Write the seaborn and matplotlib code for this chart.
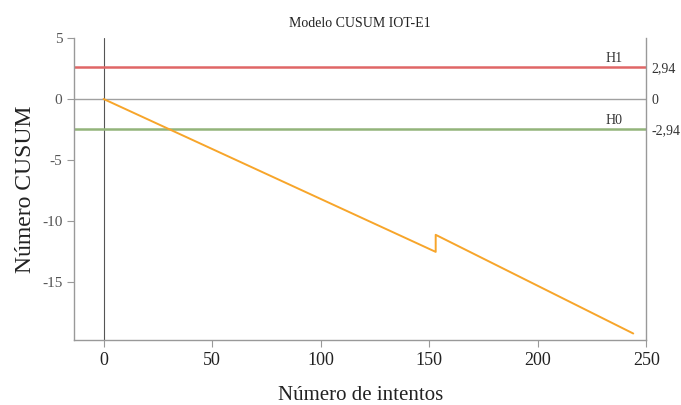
import numpy as np
import pandas as pd
import matplotlib
matplotlib.use("Agg")
import matplotlib.pyplot as plt
import seaborn as sns

# CUSUM path vertices
intentos = [0, 153, 153, 244]
cusum = [0.0, -12.55, -11.15, -19.25]

# limit lines (as drawn) and their right-side labels
h1 = 2.6
h0 = -2.46
right_ticks = [h1, 0, h0]
right_labels = ["2,94", "0", "-2,94"]

sns.set_style("white")
plt.rcParams['font.family'] = ['Liberation Serif', 'DejaVu Serif']
plt.rcParams['axes.unicode_minus'] = False

fig = plt.figure(figsize=(6.81, 4.05), dpi=100)
ax = fig.add_axes([0.109, 0.160, 0.840, 0.746])

df = pd.DataFrame({"intentos": intentos, "cusum": cusum})
ax.axhline(0, color="#a0a0a0", lw=1, zorder=1)
ax.axvline(0, color="#555555", lw=0.8, zorder=1)
ax.axhline(h1, color="#e06666", lw=1.8, zorder=2)
ax.axhline(h0, color="#93b47a", lw=1.8, zorder=2)
sns.lineplot(data=df, x="intentos", y="cusum", sort=False, estimator=None,
             color="#f7a52a", lw=1.4, ax=ax, zorder=3)

ax.text(235, h1 + 0.15, "H1", ha="center", va="bottom", fontsize=10, color="#333333")
ax.text(235, h0 + 0.15, "H0", ha="center", va="bottom", fontsize=10, color="#333333")

ax.set_xlim(-13.5, 250)
ax.set_ylim(-19.8, 5)
ax.set_xticks([0, 50, 100, 150, 200, 250])
ax.set_yticks([5, 0, -5, -10, -15])
ax.tick_params(axis="both", direction="out", length=5, color="#999999",
               labelsize=11, labelcolor="#555555")
ax.tick_params(axis="x", labelsize=13, labelcolor="#222222")
ax.tick_params(left=True, bottom=True)

for side in ["left", "bottom", "right"]:
    ax.spines[side].set_color("#999999")
    ax.spines[side].set_linewidth(1)
ax.spines["top"].set_visible(False)

ax2 = ax.twinx()
ax2.set_ylim(ax.get_ylim())
ax2.set_yticks(right_ticks)
ax2.set_yticklabels(right_labels)
ax2.tick_params(axis="y", length=0, labelsize=10, labelcolor="#333333", pad=4)
for s in ax2.spines.values():
    s.set_visible(False)

ax.set_title("Modelo CUSUM IOT-E1", fontsize=10, color="#222222", pad=8)
ax.set_xlabel("Número de intentos", fontsize=15, color="#222222", labelpad=12)
ax.set_ylabel("Número CUSUM", fontsize=17, color="#222222", labelpad=4)

fig.savefig("out.png", dpi=100)
